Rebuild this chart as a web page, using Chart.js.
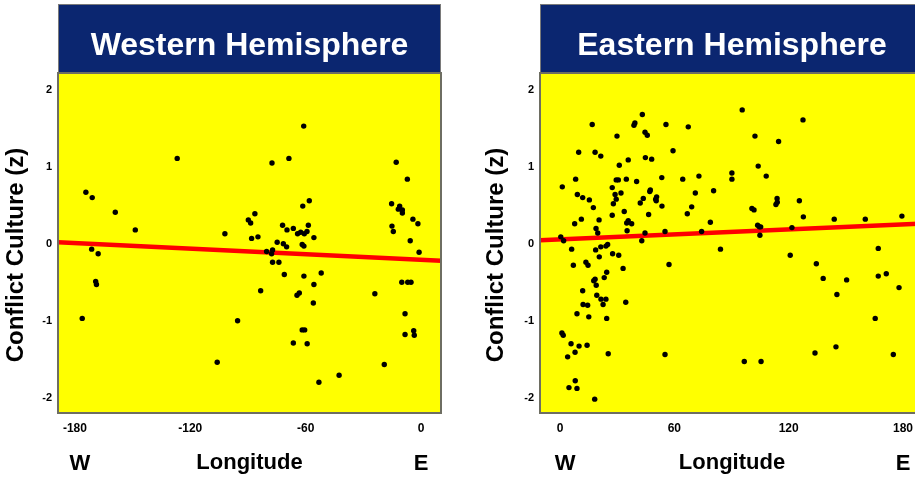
<!DOCTYPE html>
<html><head><meta charset="utf-8">
<script src="https://cdn.jsdelivr.net/npm/chart.js@4.4.1/dist/chart.umd.min.js"></script>
<style>
html,body{margin:0;padding:0;background:#fff;overflow:hidden;width:915px;height:477px}
canvas{position:absolute;top:0}
</style></head>
<body>
<canvas id="west" width="450" height="477" style="left:0px"></canvas>
<canvas id="east" width="470" height="477" style="left:458px"></canvas>
<script>
// ---------- DATA ----------
const westTitle = 'Western Hemisphere';
const eastTitle = 'Eastern Hemisphere';
const yTitle = 'Conflict Culture (z)';
const xTitle = 'Longitude';
const westLabel = 'W';
const eastLabel = 'E';

const westTicks = [-180, -120, -60, 0];
const eastTicks = [0, 60, 120, 180];
const zTicks = [-2, -1, 0, 1, 2];

const westLon = [-174.3,-171.0,-171.3,-167.9,-169.2,-168.8,-176.2,-159.0,-148.6,-126.8,
  -106.0,-102.0,-95.4,-89.8,-88.6,-86.4,-88.1,-84.8,-83.4,-80.3,
  -77.2,-77.7,-77.2,-73.9,-71.1,-77.5,-68.7,-61.0,-61.5,-58.1,
  -72.0,-69.7,-66.4,-58.6,-64.2,-62.6,-60.7,-59.3,-55.7,-74.8,
  -71.6,-69.9,-61.8,-60.9,-60.9,-51.9,-55.7,-64.5,-63.3,-56.0,
  -61.8,-60.5,-66.4,-59.2,-53.1,-42.6,-24.0,-19.1,-12.9,-7.1,
  -15.3,-11.1,-11.8,-9.7,-9.7,-4.2,-1.6,-15.1,-14.4,-5.6,
  -1.0,-10.0,-6.9,-5.2,-8.3,-8.3,-3.8,-3.5];
const westZ = [0.67,0.60,-0.07,-0.13,-0.49,-0.53,-0.97,0.41,0.18,1.11,
  -1.54,0.13,-1.00,0.31,0.27,0.39,0.07,0.09,-0.61,-0.10,
  -0.08,-0.13,-0.24,-0.24,-0.40,1.05,1.11,1.53,0.49,0.56,
  0.24,0.18,0.20,0.24,0.13,0.15,0.13,0.16,0.08,0.02,
  0.00,-0.04,-0.01,-0.03,-0.42,-0.38,-0.53,-0.67,-0.64,-0.77,
  -1.12,-1.12,-1.29,-1.30,-1.80,-1.71,-0.65,-1.57,1.06,0.84,
  0.52,0.49,0.45,0.44,0.40,0.32,0.26,0.23,0.16,0.04,
  -0.11,-0.50,-0.50,-0.50,-0.91,-1.18,-1.13,-1.19];

const eastLon = [43.2,16.9,38.8,39.3,55.6,67.3,44.6,45.8,29.9,9.8,
  18.4,21.4,59.3,44.8,48.1,35.8,31.1,8.2,1.2,29.5,
  30.6,34.8,40.2,53.4,64.4,72.9,27.4,47.4,47.1,80.6,
  9.1,11.9,15.4,28.9,32.0,29.5,50.7,50.2,50.5,43.7,
  42.1,28.0,17.5,53.5,71.0,69.1,33.7,66.8,46.5,27.4,
  11.2,20.5,7.7,35.0,35.8,37.6,18.9,19.8,35.2,78.9,
  55.1,44.6,74.3,0.4,1.9,42.9,6.1,21.4,24.1,25.0,
  18.7,84.2,20.6,27.6,30.8,7.0,13.6,14.7,33.1,57.2,
  24.5,23.2,17.7,18.4,19.0,11.9,19.3,21.5,24.1,22.6,
  12.1,14.5,34.5,8.9,15.1,24.5,1.0,1.7,5.8,10.0,
  14.2,7.9,4.0,25.3,55.1,8.0,4.7,8.9,18.2,95.6,
  127.5,102.3,114.7,104.0,90.2,90.2,108.2,113.9,114.0,113.3,
  125.6,100.7,101.8,127.7,143.9,160.2,179.4,103.7,104.6,105.3,
  121.7,104.9,167.0,120.8,134.5,138.1,150.4,167.0,171.2,177.9,
  145.3,165.4,96.7,105.5,133.8,144.8,174.9];
const eastZ = [1.68,1.55,1.54,1.57,1.55,1.52,1.45,1.41,1.40,1.19,
  1.19,1.14,1.21,1.12,1.10,1.09,1.02,0.84,0.74,0.83,
  0.83,0.84,0.81,0.86,0.84,0.88,0.73,0.70,0.68,0.69,
  0.64,0.60,0.57,0.64,0.66,0.58,0.61,0.58,0.56,0.59,
  0.53,0.52,0.47,0.49,0.66,0.48,0.42,0.39,0.38,0.37,
  0.32,0.31,0.26,0.27,0.30,0.26,0.20,0.14,0.17,0.28,
  0.16,0.14,0.16,0.09,0.04,0.04,-0.07,-0.04,-0.03,-0.01,
  -0.08,-0.07,-0.17,-0.13,-0.15,-0.28,-0.24,-0.28,-0.32,-0.27,
  -0.37,-0.44,-0.48,-0.46,-0.54,-0.61,-0.67,-0.72,-0.72,-0.79,
  -0.79,-0.80,-0.76,-0.91,-0.95,-0.97,-1.16,-1.19,-1.30,-1.33,
  -1.32,-1.41,-1.47,-1.43,-1.44,-1.78,-1.87,-1.88,-2.02,1.74,
  1.61,1.40,1.33,1.01,0.92,0.84,0.88,0.59,0.54,0.51,
  0.56,0.46,0.44,0.35,0.32,0.32,0.36,0.24,0.22,0.22,
  0.21,0.11,-0.06,-0.15,-0.26,-0.45,-0.47,-0.42,-0.39,-0.57,
  -0.66,-0.97,-1.53,-1.53,-1.42,-1.34,-1.44];

// regression line end points (lon, z)
const westTrendLon = [-188.8, 10.4];
const westTrendZ = [0.02, -0.22];
const eastTrendLon = [-10.5, 191.0];
const eastTrendZ = [0.045, 0.265];

// ---------- STYLE ----------
const FONT = '"Liberation Sans", Arial, Helvetica, sans-serif';
const NAVY = '#0b2670';
const YELLOW = '#ffff00';
const BORDER = '#6e6e62';

const decoPlugin = {
  id: 'deco',
  beforeDraw(chart, args, o) {
    const {ctx, chartArea: a} = chart;
    ctx.save();
    ctx.fillStyle = NAVY;
    ctx.fillRect(a.left, 4, a.right - a.left, a.top - 4);
    ctx.strokeStyle = '#7a7a7a';
    ctx.lineWidth = 1;
    ctx.strokeRect(a.left + 0.5, 4.5, a.right - a.left - 1, a.top - 5);
    ctx.fillStyle = YELLOW;
    ctx.fillRect(a.left, a.top, a.right - a.left, a.bottom - a.top);
    ctx.restore();
  },
  afterDraw(chart, args, o) {
    const {ctx, chartArea: a} = chart;
    const xs = chart.scales.x;
    ctx.save();
    ctx.strokeStyle = BORDER;
    ctx.lineWidth = 2;
    ctx.strokeRect(a.left, a.top, a.right - a.left, a.bottom - a.top);
    ctx.fillStyle = '#000';
    ctx.font = 'bold 22px ' + FONT;
    ctx.textAlign = 'center';
    ctx.textBaseline = 'alphabetic';
    ctx.fillText(westLabel, xs.getPixelForValue(o.ticks[0]) + 5, 470);
    ctx.fillText(eastLabel, xs.getPixelForValue(o.ticks[o.ticks.length - 1]), 470);
    ctx.translate(o.yTitleX, (a.top + a.bottom) / 2 + 12);
    ctx.rotate(-Math.PI / 2);
    ctx.font = 'bold 24px ' + FONT;
    ctx.textBaseline = 'middle';
    ctx.fillText(yTitle, 0, 0);
    ctx.restore();
  }
};

function makePanel(id, title, lon, z, tLon, tZ, xMin, xMax, ticks, yAxisW, padRight, yTitleX) {
  const pts = lon.map((x, i) => ({x: x, y: z[i]}));
  const trend = tLon.map((x, i) => ({x: x, y: tZ[i]}));
  return new Chart(document.getElementById(id), {
    type: 'scatter',
    data: {
      datasets: [
        {data: pts, backgroundColor: '#000', borderWidth: 0, pointRadius: 2.7, pointHoverRadius: 2.7},
        {data: trend, showLine: true, borderColor: '#ff0000', borderWidth: 4.5, pointRadius: 0, fill: false}
      ]
    },
    options: {
      responsive: false,
      animation: false,
      devicePixelRatio: 1,
      layout: {padding: {top: 4, left: 0, right: padRight, bottom: 0}},
      plugins: {
        legend: {display: false},
        tooltip: {enabled: false},
        title: {
          display: true, text: title, color: '#fff', fullSize: false,
          font: {family: FONT, size: 32, weight: 'bold', lineHeight: 1},
          padding: {top: 26, bottom: 11}
        },
        deco: {ticks: ticks, yTitleX: yTitleX}
      },
      scales: {
        x: {
          type: 'linear', min: xMin, max: xMax,
          grid: {display: false, drawTicks: false},
          border: {display: false},
          afterBuildTicks: s => { s.ticks = ticks.map(v => ({value: v})); },
          afterFit: s => { s.height = 64; },
          ticks: {color: '#000', padding: 8, font: {family: FONT, size: 12, weight: 'bold'}},
          title: {display: true, text: xTitle, color: '#000',
            font: {family: FONT, size: 22, weight: 'bold', lineHeight: 1},
            padding: {top: 0, bottom: 3}}
        },
        y: {
          type: 'linear', min: -2.2, max: 2.22,
          grid: {display: false, drawTicks: false},
          border: {display: false},
          afterBuildTicks: s => { s.ticks = zTicks.map(v => ({value: v})); },
          afterFit: s => { s.width = yAxisW; },
          ticks: {color: '#000', padding: 6, font: {family: FONT, size: 11, weight: 'bold'}}
        }
      }
    },
    plugins: [decoPlugin]
  });
}

makePanel('west', westTitle, westLon, westZ, westTrendLon, westTrendZ, -188.8, 10.4, westTicks, 58, 9, 16);
makePanel('east', eastTitle, eastLon, eastZ, eastTrendLon, eastTrendZ, -10.5, 191.0, eastTicks, 82, 4, 38);
</script>
</body></html>
